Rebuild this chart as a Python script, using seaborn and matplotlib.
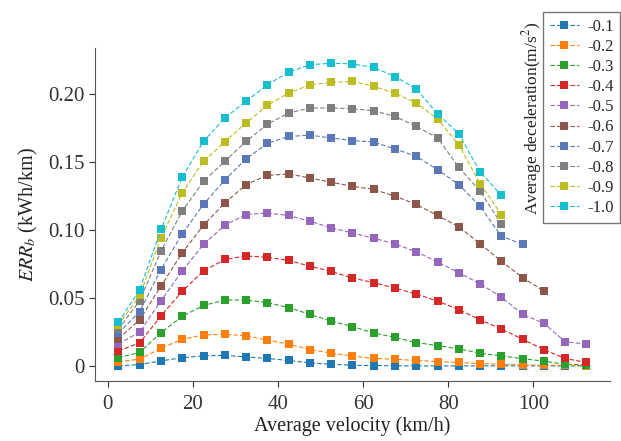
import numpy as np
import pandas as pd
import matplotlib
matplotlib.use("Agg")
import matplotlib.pyplot as plt
from matplotlib.ticker import FuncFormatter
import seaborn as sns

# average velocity bins (km/h)
velocity = [2.5, 7.5, 12.5, 17.5, 22.5, 27.5, 32.5, 37.5, 42.5, 47.5, 52.5, 57.5,
            62.5, 67.5, 72.5, 77.5, 82.5, 87.5, 92.5, 97.5, 102.5, 107.5, 112.5]

decel_labels = ["-0.1", "-0.2", "-0.3", "-0.4", "-0.5",
                "-0.6", "-0.7", "-0.8", "-0.9", "-1.0"]

# ERR_b (kWh/km) per deceleration level
err_01 = [0.000, 0.001, 0.0037, 0.006, 0.0074, 0.0078, 0.0066, 0.0055, 0.004, 0.0022, 0.0012,
          0.0005, 0.0002, 0.0001, 0.0, 0.0, 0.0, 0.0, 0.0, 0.0, 0.0, 0.0, 0.0]
err_02 = [0.003, 0.005, 0.013, 0.0196, 0.0228, 0.0233, 0.0222, 0.019, 0.016, 0.012, 0.0095,
          0.0072, 0.0055, 0.0049, 0.004, 0.0032, 0.0025, 0.0017, 0.0012, 0.0007, 0.0005, 0.0003, 0.0002]
err_03 = [0.006, 0.010, 0.0245, 0.0365, 0.0445, 0.0485, 0.0485, 0.0466, 0.043, 0.038, 0.033,
          0.029, 0.0242, 0.021, 0.0172, 0.015, 0.0125, 0.0094, 0.0074, 0.0053, 0.0035, 0.0012, 0.0009]
err_04 = [0.011, 0.017, 0.0368, 0.055, 0.070, 0.0784, 0.081, 0.080, 0.0777, 0.0735, 0.0696,
          0.0648, 0.0613, 0.0573, 0.053, 0.0478, 0.0415, 0.034, 0.0272, 0.0196, 0.012, 0.0055, 0.0025]
err_05 = [0.016, 0.025, 0.048, 0.070, 0.0895, 0.1037, 0.1115, 0.1127, 0.1108, 0.1066, 0.1017,
          0.098, 0.094, 0.090, 0.084, 0.0767, 0.0686, 0.0605, 0.0507, 0.038, 0.0314, 0.0179, 0.016]
err_06 = [0.020, 0.034, 0.0588, 0.0833, 0.1037, 0.120, 0.1336, 0.1404, 0.1414, 0.1385, 0.1353,
          0.1324, 0.130, 0.125, 0.119, 0.1108, 0.1025, 0.090, 0.0772, 0.065, 0.0551]
err_07 = [0.024, 0.040, 0.071, 0.0973, 0.119, 0.137, 0.1525, 0.164, 0.169, 0.170, 0.1679,
          0.166, 0.165, 0.1598, 0.1544, 0.1446, 0.1336, 0.1176, 0.0956, 0.0895]
err_08 = [0.027, 0.048, 0.0846, 0.114, 0.136, 0.1507, 0.1654, 0.178, 0.1863, 0.190, 0.190,
          0.1895, 0.188, 0.1838, 0.1765, 0.168, 0.1463, 0.1287, 0.1047]
err_09 = [0.030, 0.052, 0.094, 0.1275, 0.1507, 0.165, 0.179, 0.1919, 0.201, 0.2071, 0.2088,
          0.2096, 0.2059, 0.201, 0.1936, 0.182, 0.163, 0.1343, 0.1115]
err_10 = [0.032, 0.056, 0.1005, 0.139, 0.1654, 0.1826, 0.1949, 0.2071, 0.2164, 0.2218, 0.223,
          0.2225, 0.2199, 0.2132, 0.204, 0.1858, 0.171, 0.1429, 0.1257]

series = [err_01, err_02, err_03, err_04, err_05, err_06, err_07, err_08, err_09, err_10]

colors = ["#1f77b4", "#ff7f0e", "#2ca02c", "#d62728", "#9467bd",
          "#8c564b", "#5a78b8", "#7f7f7f", "#bcbd22", "#17becf"]

rows = []
for lab, vals in zip(decel_labels, series):
    for v, e in zip(velocity, vals):
        rows.append({"velocity": v, "err": e, "decel": lab})
df = pd.DataFrame(rows)

sns.set_style("ticks")
plt.rcParams["font.family"] = ["Liberation Serif", "DejaVu Serif"]
plt.rcParams["mathtext.fontset"] = "stix"

fig = plt.figure(figsize=(6.21, 4.41), dpi=100)
ax = fig.add_axes([0.153, 0.136, 0.829, 0.755])

sns.lineplot(data=df, x="velocity", y="err", hue="decel", hue_order=decel_labels,
             palette=colors, marker="s", markersize=6, markeredgewidth=0,
             linestyle=(0, (4, 2)), linewidth=0.8, sort=False, legend=False, ax=ax)

ax.set_xticks([0, 20, 40, 60, 80, 100])
ax.set_yticks([0, 0.05, 0.10, 0.15, 0.20])
ax.yaxis.set_major_formatter(FuncFormatter(lambda v, p: "0" if abs(v) < 1e-9 else f"{v:.2f}"))
ax.tick_params(labelsize=15, colors="#333333", length=4)
ax.tick_params(axis="x", pad=6)
ax.set_xlabel("Average velocity (km/h)", fontsize=14.5, color="#222222", labelpad=2)
ax.set_ylabel(r"$\mathit{ERR_b}$ (kWh/km)", fontsize=14.5, color="#222222", labelpad=6)
for s in ["left", "bottom"]:
    ax.spines[s].set_color("#555555")
sns.despine(ax=ax)

handles = ax.lines[:len(decel_labels)]
leg = fig.legend(handles, decel_labels, loc="upper left",
                 bbox_to_anchor=(543 / 621, 1 - 12 / 441), bbox_transform=fig.transFigure,
                 fontsize=12, frameon=True, fancybox=False, edgecolor="#555555",
                 handlelength=1.75, handletextpad=0.5, labelspacing=0.25,
                 borderaxespad=0, borderpad=0.4)
fig.text(532 / 621, 1 - 118 / 441, r"Average deceleration(m/s$^2$)", rotation=90,
         ha="center", va="center", fontsize=12.5, color="#222222")

fig.savefig("out.png", dpi=100)
